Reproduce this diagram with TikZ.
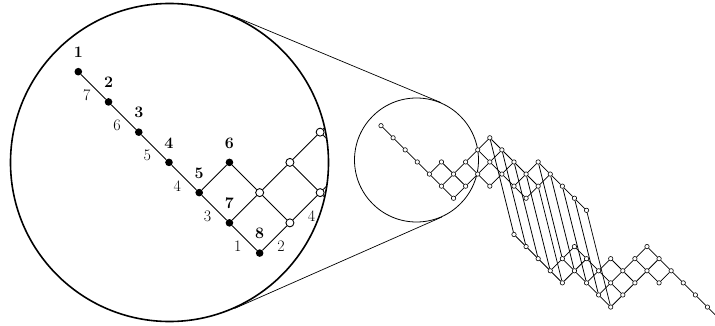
\documentclass[tikz,border=0pt]{standalone}
\usetikzlibrary{calc}
\begin{document}
\begin{tikzpicture}[x=1pt,y=-1pt,
  snode/.style={circle,draw,fill=white,line width=0.6pt,inner sep=0pt,minimum size=4.4pt},
  sedge/.style={line width=0.75pt},
  fnode/.style={circle,fill=black,inner sep=0pt,minimum size=7.6pt},
  onode/.style={circle,draw,fill=white,line width=0.9pt,inner sep=0pt,minimum size=8pt},
  iedge/.style={line width=0.9pt},
  vlbl/.style={font=\fontsize{16}{19}\selectfont\bfseries},
  elbl/.style={font=\fontsize{16}{19}\selectfont},
  ring/.style={circle,draw,inner sep=0pt},
  tline/.style={line width=0.7pt}
]
\useasboundingbox (0,0) rectangle (715,326);
\clip (0,0) rectangle (715,326);

% magnifier circles and tangents
\node[ring, line width=1.6pt, minimum size=318pt] (big) at (169.5,162.5) {};
\node[ring, line width=0.8pt, minimum size=124pt] (lens) at (416.5,160) {};
\draw[tline] (big.67.46) -- (lens.67.46);
\draw[tline] (big.-66.3) -- (lens.-66.3);

% small full diagram
\begin{scope}[shift={(381,125.7)}, x=12.09pt, y=-12.09pt]
  \foreach \a/\b in {0/0,1/1,2/2,3/3,4/4,5/3,5/5,6/4,6/6,7/3,7/5,8/2,8/4,9/1,9/3,9/5,10/2,10/4,11/3,11/5,12/4,12/6,13/3,13/5,14/4,15/5,16/6,17/7}{
    \node[snode] (s-\a-\b) at (\a,\b) {};
    \pgfmathtruncatemacro\c{28-\a}
    \pgfmathtruncatemacro\d{16-\b}
    \node[snode] (l-\a-\b) at (\c,\d) {};
  }
  \foreach \a/\b/\c/\d in {0/0/1/1,1/1/2/2,2/2/3/3,3/3/4/4,4/4/5/3,4/4/5/5,5/3/6/4,5/5/6/4,5/5/6/6,6/4/7/3,6/4/7/5,6/6/7/5,7/3/8/2,7/3/8/4,7/5/8/4,8/2/9/1,8/2/9/3,8/4/9/3,8/4/9/5,9/1/10/2,9/3/10/2,9/3/10/4,9/5/10/4,10/2/11/3,10/4/11/3,10/4/11/5,11/3/12/4,11/5/12/4,11/5/12/6,12/4/13/3,12/4/13/5,12/6/13/5,13/3/14/4,13/5/14/4,14/4/15/5,15/5/16/6,16/6/17/7}{
    \draw[sedge] (s-\a-\b) -- (s-\c-\d);
    \draw[sedge] (l-\a-\b) -- (l-\c-\d);
  }
  \foreach \a/\b in {9/1,10/2,11/3,12/4,13/3,13/5,14/4,15/5,16/6,17/7}{
    \pgfmathtruncatemacro\c{26-\a}
    \pgfmathtruncatemacro\d{8-\b}
    \draw[sedge] (s-\a-\b) -- (l-\c-\d);
  }
\end{scope}

% magnified inset
\begin{scope}
  \clip (169.5,162.5) circle[radius=158.2pt];
  \begin{scope}[shift={(78.3,71.7)}, x=30.23pt, y=-30.23pt]
    \foreach \a/\b in {0/0,1/1,2/2,3/3,4/4,5/3,5/5,6/6}
      \node[fnode] (i-\a-\b) at (\a,\b) {};
    \foreach \a/\b in {6/4,7/3,7/5,8/2,8/4,9/1,9/3,9/5,10/2,10/4}
      \node[onode] (i-\a-\b) at (\a,\b) {};
    \foreach \a/\b/\c/\d in {4/4/5/3,5/3/6/4,5/5/6/4,6/4/7/3,6/4/7/5,7/3/8/2,7/3/8/4,8/2/9/1,8/2/9/3,8/4/9/3,8/4/9/5,9/1/10/2,9/3/10/2,9/3/10/4,9/5/10/4}
      \draw[iedge] (i-\a-\b) -- (i-\c-\d);
    \foreach \a/\b/\c/\d/\t in {0/0/1/1/7,1/1/2/2/6,2/2/3/3/5,3/3/4/4/4,4/4/5/5/3,5/5/6/6/1}
      \draw[iedge] (i-\a-\b) -- (i-\c-\d) node[elbl, midway, xshift=-6.7pt, yshift=-8.3pt] {\t};
    \foreach \a/\b/\c/\d/\t in {6/6/7/5/2,7/5/8/4/4}
      \draw[iedge] (i-\a-\b) -- (i-\c-\d) node[elbl, midway, xshift=6.5pt, yshift=-8.3pt] {\t};
    \foreach \a/\b/\t in {0/0/1,1/1/2,2/2/3,3/3/4,4/4/5,5/3/6,5/5/7,6/6/8}
      \node[vlbl] (v\t) at ([yshift=19.4pt]i-\a-\b) {\t};
  \end{scope}
\end{scope}
\end{tikzpicture}
\end{document}
